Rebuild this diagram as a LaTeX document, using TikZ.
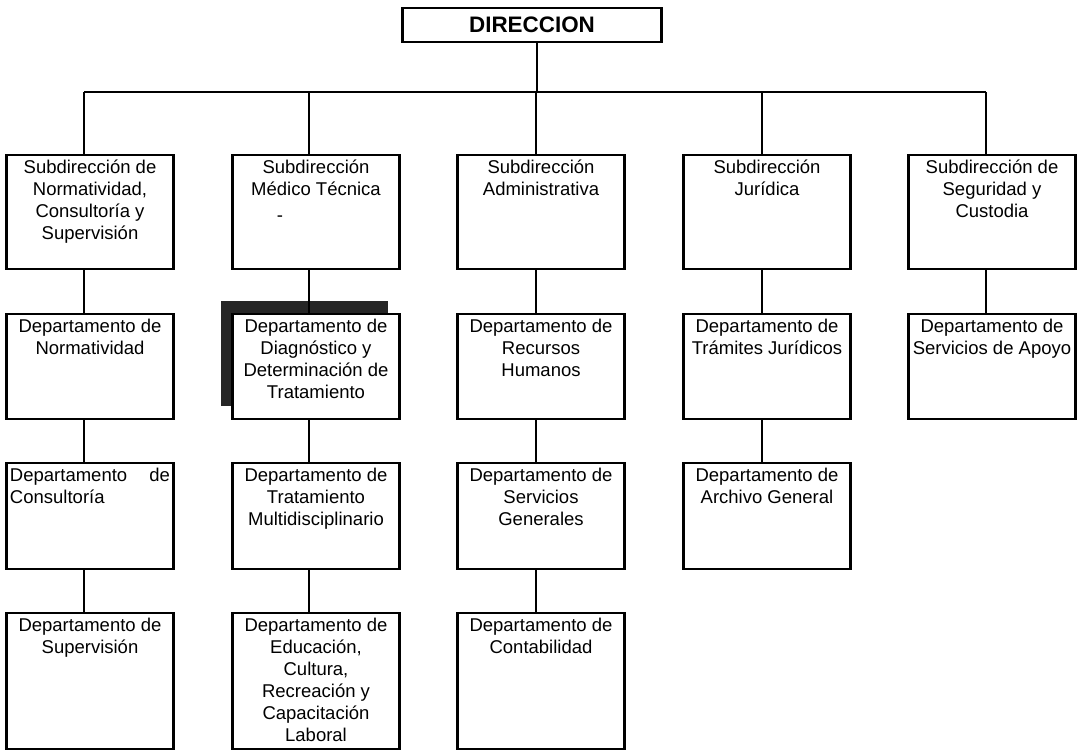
\documentclass[tikz,border=0pt]{standalone}
\usepackage{fontspec}
\setmainfont{Liberation Sans}
\usetikzlibrary{shadows}

\begin{document}
\begin{tikzpicture}[x=0.5pt, y=-0.5pt,
    orgbox/.style={draw, line width=1.2pt, fill=white, anchor=north, inner sep=0pt,
        minimum width=83.5pt, minimum height=#1},
    orgbox/.default=52.5pt,
    lbl/.style={anchor=north, inner sep=0pt, yshift=-2.6pt,
        align=center, font=\fontsize{9.25}{11}\selectfont},
    link/.style={line width=1pt}]
    \useasboundingbox (0,0) rectangle (1079,750);

    % top
    \node[draw, line width=1.2pt, minimum width=129.5pt, minimum height=17pt,
        font=\bfseries\fontsize{11.2}{13}\selectfont] (dir) at (532,25) {DIRECCION};

    % bus
    \coordinate (top) at (537,92);
    \coordinate (b1) at (84,92);
    \coordinate (b2) at (309,92);
    \coordinate (b3) at (536,92);
    \coordinate (b4) at (762,92);
    \coordinate (b5) at (986,92);

    % subdirecciones
    \node[orgbox=57pt, label={[lbl]north:{Subdirección de\\Normatividad,\\Consultoría y\\Supervisión}}] (s1) at (90,154) {};
    \node[orgbox=57pt, label={[lbl]north:{Subdirección\\Médico Técnica}}] (s2) at (316,154) {};
    \node[orgbox=57pt, label={[lbl]north:{Subdirección\\Administrativa}}] (s3) at (541,154) {};
    \node[orgbox=57pt, label={[lbl]north:{Subdirección\\Jurídica}}] (s4) at (767,154) {};
    \node[orgbox=57pt, label={[lbl]north:{Subdirección de\\Seguridad y\\Custodia}}] (s5) at (992,154) {};
    \node[font=\fontsize{9.25}{11}\selectfont, inner sep=0pt] (dash) at (280,219) {-};

    % departamentos, primera fila
    \node[orgbox, label={[lbl]north:{Departamento de\\Normatividad}}] (d11) at (90,313) {};
    \node[orgbox, drop shadow={shadow xshift=-6pt, shadow yshift=6.5pt, fill=black!85, opacity=1},
        label={[lbl]north:{Departamento de\\Diagnóstico y\\Determinación de\\Tratamiento}}] (d21) at (316,313) {};
    \node[orgbox, label={[lbl]north:{Departamento de\\Recursos\\Humanos}}] (d31) at (541,313) {};
    \node[orgbox, label={[lbl]north:{Departamento de\\Trámites Jurídicos}}] (d41) at (767,313) {};
    \node[orgbox, label={[lbl]north:{Departamento de\\Servicios de Apoyo}}] (d51) at (992,313) {};

    % segunda fila
    \node[orgbox=53pt, label={[lbl, align=left, text width=80pt]north:{Departamento\hfill de\\Consultoría}}] (d12) at (90,462) {};
    \node[orgbox=53pt, label={[lbl]north:{Departamento de\\Tratamiento\\Multidisciplinario}}] (d22) at (316,462) {};
    \node[orgbox=53pt, label={[lbl]north:{Departamento de\\Servicios\\Generales}}] (d32) at (541,462) {};
    \node[orgbox=53pt, label={[lbl]north:{Departamento de\\Archivo General}}] (d42) at (767,462) {};

    % tercera fila
    \node[orgbox=68pt, label={[lbl]north:{Departamento de\\Supervisión}}] (d13) at (90,612) {};
    \node[orgbox=68pt, label={[lbl]north:{Departamento de\\Educación,\\Cultura,\\Recreación y\\Capacitación\\Laboral}}] (d23) at (316,612) {};
    \node[orgbox=68pt, label={[lbl]north:{Departamento de\\Contabilidad}}] (d33) at (541,612) {};

    % lines
    \draw[link] (dir.south -| top) -- (top);
    \draw[link] (b1) -- (b5);
    \foreach \c/\n in {b1/s1, b2/s2, b3/s3, b4/s4, b5/s5}
        \draw[link] (\c) -- (\c |- \n.north);
    \foreach \c/\a/\b in {b1/s1/d11, b1/d11/d12, b1/d12/d13,
                          b2/s2/d21, b2/d21/d22, b2/d22/d23,
                          b3/s3/d31, b3/d31/d32, b3/d32/d33,
                          b4/s4/d41, b4/d41/d42,
                          b5/s5/d51}
        \draw[link] (\c |- \a.south) -- (\c |- \b.north);
\end{tikzpicture}
\end{document}
